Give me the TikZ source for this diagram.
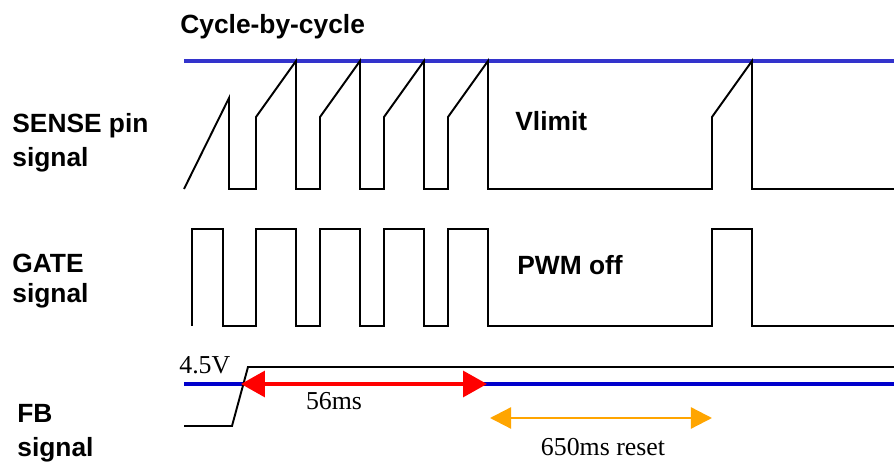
\documentclass[tikz,border=0pt]{standalone}
\usepackage{fontspec}
\setmainfont{Liberation Serif}
\setsansfont{Liberation Sans}
\usepackage{tikz}
\usetikzlibrary{arrows.meta, positioning}
\definecolor{limitBlue}{RGB}{51, 51, 204}
\definecolor{fbBlue}{RGB}{0, 0, 204}
\definecolor{resetOrange}{RGB}{255, 165, 0}

\begin{document}
\begin{tikzpicture}[
        x=0.02cm, y=-0.02cm,
        lbl/.style={font=\sffamily\bfseries\fontsize{15}{19.8}\selectfont, inner sep=0pt, align=left},
        val/.style={font=\rmfamily\fontsize{14.7}{17}\selectfont, inner sep=0pt},
        wave/.style={draw=black, line width=1.1pt, line join=miter},
        level/.style={line width=2.6pt},
        span/.style={line width=2pt, red, {Triangle[length=13.6pt, width=14.7pt]}-{Triangle[length=13.6pt, width=14.7pt]}},
        reset/.style={line width=1.3pt, resetOrange, {Triangle[length=12pt, width=12pt]}-{Triangle[length=12pt, width=12pt]}}
    ]
        \useasboundingbox[fill=white] (0,0) rectangle (894,469);

        % Labels
        \node[lbl, anchor=base west] (title) at (180,34) {Cycle-by-cycle};
        \node[lbl, anchor=base west] (sense) at (12,167) {SENSE pin\\signal};
        \node[lbl, anchor=base west] (gate) at (12,303) {GATE\\[-2.5pt]signal};
        \node[lbl, anchor=base west] (fb) at (17,457) {FB\\signal};
        \node[lbl, anchor=base west] (vlimit) at (515,131) {Vlimit};
        \node[lbl, anchor=base west] (pwmoff) at (517,275) {PWM off};

        % Vlimit level
        \draw[level, limitBlue] (184,61) -- (894,61);

        % SENSE pin signal
        \draw[wave] (184,189) -- (229,98) -- (229,189) -- (256,189)
            -- (256,117) -- (296,61) -- (296,189) -- (320,189)
            -- (320,117) -- (360,61) -- (360,189) -- (384,189)
            -- (384,117) -- (424,61) -- (424,189) -- (448,189)
            -- (448,117) -- (488,61) -- (488,189) -- (712,189)
            -- (712,117) -- (752,61) -- (752,189) -- (894,189);

        % GATE signal
        \draw[wave] (192,326) -- (192,229) -- (223,229) -- (223,326) -- (256,326)
            -- (256,229) -- (296,229) -- (296,326) -- (320,326)
            -- (320,229) -- (360,229) -- (360,326) -- (384,326)
            -- (384,229) -- (424,229) -- (424,326) -- (448,326)
            -- (448,229) -- (488,229) -- (488,326) -- (712,326)
            -- (712,229) -- (752,229) -- (752,326) -- (894,326);

        % FB signal
        \draw[level, fbBlue, line width=2.3pt] (184,384) -- (894,384);
        \draw[wave] (184,426) -- (232,426) -- (248,367) -- (894,367);
        \node[val, anchor=base west] (vfb) at (179,374) {4.5V};

        \coordinate (blankStart) at (241,384);
        \coordinate (blankEnd) at (487,384);
        \draw[span] (blankStart) -- (blankEnd);
        \node[val, anchor=base] (blank) at (334,410) {56ms};

        \coordinate (resetStart) at (490,418);
        \coordinate (resetEnd) at (712,418);
        \draw[reset] (resetStart) -- (resetEnd);
        \node[val, anchor=base] (restart) at (603,456) {650ms reset};
    \end{tikzpicture}
\end{document}
